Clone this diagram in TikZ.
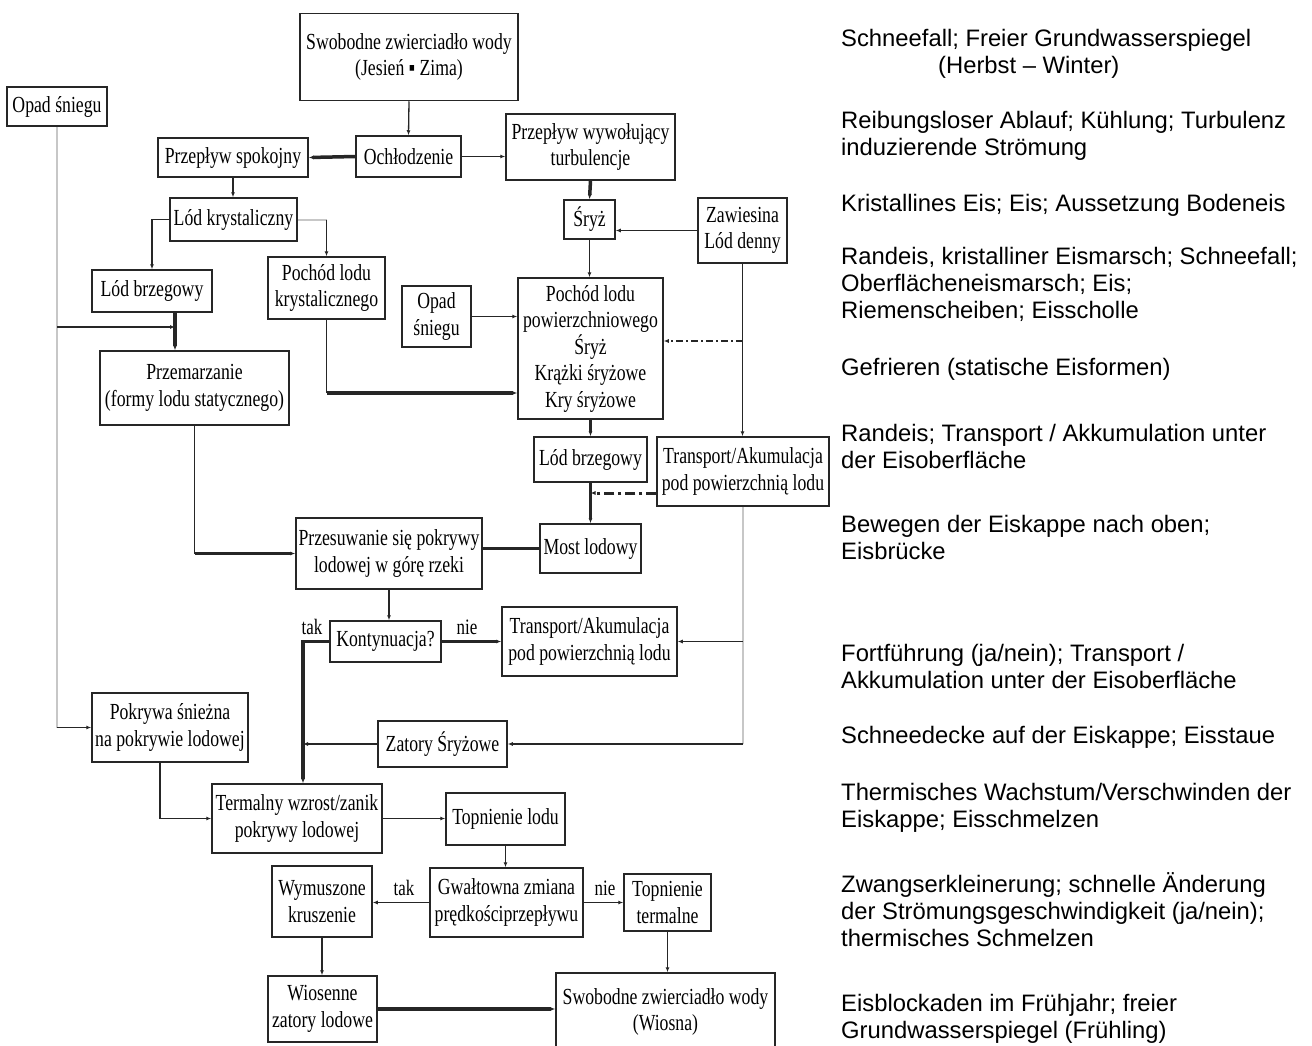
\documentclass[tikz,border=0pt]{standalone}
\usepackage{fontspec}
\setmainfont{Liberation Serif}[FakeStretch=0.77]
\newfontfamily\opisfont{Liberation Sans}
\usetikzlibrary{arrows.meta}

\begin{document}
\begin{tikzpicture}[x=1pt,y=-1pt,
    >={Latex[length=5pt,width=4pt]},
    blok/.style={draw=black!85,line width=1.5pt,inner sep=0pt,align=center,
        font=\fontsize{23}{26.5}\selectfont},
    linia/.style={line width=1.3pt,black!85},
    gruba/.style={line width=3.5pt,black!85},
    szara/.style={line width=2pt,black!22},
    etykieta/.style={inner sep=0pt,font=\fontsize{22}{24}\selectfont},
    opis/.style={anchor=base west,align=left,inner sep=0pt,
        font=\opisfont\fontsize{23.8}{27}\selectfont}]
\clip (0,0) rectangle (1312,1045);
\fill[white] (0,0) rectangle (1312,1045);

\node[blok,minimum width=218,minimum height=87] (swobJ) at (409,57) {Swobodne zwierciadło wody\\(Jesień ▪ Zima)};
\node[blok,minimum width=105,minimum height=41] (ochl) at (408.5,156.5) {Ochłodzenie};
\node[blok,minimum width=150,minimum height=39] (spok) at (233,157.5) {Przepływ spokojny};
\node[blok,minimum width=169,minimum height=66] (turb) at (590.5,147) {Przepływ wywołujący\\turbulencje};
\node[blok,minimum width=100,minimum height=39] (opadL) at (57,106.5) {Opad śniegu};
\node[blok,minimum width=127,minimum height=43] (kryst) at (233.5,219.5) {Lód krystaliczny};
\node[blok,minimum width=51,minimum height=39] (sryz) at (589.5,219.5) {Śryż};
\node[blok,minimum width=89,minimum height=65] (zaw) at (742.5,230.5) {Zawiesina\\Lód denny};
\node[blok,minimum width=120,minimum height=42] (brzegL) at (152,291) {Lód brzegowy};
\node[blok,minimum width=117,minimum height=62] (pkryst) at (326.5,288) {Pochód lodu\\krystalicznego};
\node[blok,minimum width=69,minimum height=61] (opadP) at (436.5,316.5) {Opad\\śniegu};
\node[blok,minimum width=145,minimum height=141] (ppow) at (590.5,348.5) {Pochód lodu\\powierzchniowego\\Śryż\\Krążki śryżowe\\Kry śryżowe};
\node[blok,minimum width=189,minimum height=74] (przem) at (194.5,388) {Przemarzanie\\(formy lodu statycznego)};
\node[blok,minimum width=113,minimum height=45] (brzegP) at (590.5,459.5) {Lód brzegowy};
\node[blok,minimum width=172,minimum height=69] (transG) at (743,471.5) {Transport/Akumulacja\\pod powierzchnią lodu};
\node[blok,minimum width=101,minimum height=49] (most) at (590.5,548.5) {Most lodowy};
\node[blok,minimum width=186,minimum height=71] (przes) at (389,553.5) {Przesuwanie się pokrywy\\lodowej w górę rzeki};
\node[blok,minimum width=111,minimum height=41] (kont) at (385.5,641.5) {Kontynuacja?};
\node[blok,minimum width=175,minimum height=69] (transD) at (589.5,641.5) {Transport/Akumulacja\\pod powierzchnią lodu};
\node[blok,minimum width=156,minimum height=69] (pokr) at (170,727.5) {Pokrywa śnieżna\\na pokrywie lodowej};
\node[blok,minimum width=129,minimum height=46] (zator) at (442.5,744) {Zatory Śryżowe};
\node[blok,minimum width=170,minimum height=69] (term) at (297,818.5) {Termalny wzrost/zanik\\pokrywy lodowej};
\node[blok,minimum width=119,minimum height=52] (topl) at (505.5,819) {Topnienie lodu};
\node[blok,minimum width=153,minimum height=69] (gwalt) at (506.5,902.5) {Gwałtowna zmiana\\prędkościprzepływu};
\node[blok,minimum width=100,minimum height=71] (wym) at (322,901.5) {Wymuszone\\kruszenie};
\node[blok,minimum width=87,minimum height=57] (topt) at (667.5,902.5) {Topnienie\\termalne};
\node[blok,minimum width=109,minimum height=66] (wios) at (322.5,1009) {Wiosenne\\zatory lodowe};
\node[blok,minimum width=219,minimum height=78] (swobW) at (665.5,1012) {Swobodne zwierciadło wody\\(Wiosna)};

\coordinate (tk) at ([xshift=6]term.north);
\coordinate (bk) at ([xshift=23]brzegL.south);

\draw[szara] (opadL.south) -- (opadL.south |- pokr.west);
\draw[szara] (kryst.east) -- (kryst.east -| pkryst.north);
\draw[szara] (transG.south) -- (transG.south |- zator.east);

\draw[linia,->] (swobJ.south) -- (ochl.north);
\draw[gruba,->] (ochl.west) -- (spok.east);
\draw[linia,->] (ochl.east) -- (ochl.east -| turb.west);
\draw[linia,->] (spok.south) -- (spok.south |- kryst.north);
\draw[linia,->] (kryst.west) -| (brzegL.north);
\draw[linia,->] (kryst.east -| pkryst.north) -- (pkryst.north);
\draw[gruba,->] (turb.south) -- (sryz.north);
\draw[linia,->] (zaw.west) -- (zaw.west -| sryz.east);
\draw[linia,->] (sryz.south) -- (sryz.south |- ppow.north);
\draw[linia,->] (opadP.east) -- (opadP.east -| ppow.west);
\draw[linia,->] (zaw.south) -- (zaw.south |- transG.north);
\draw[linia,->,dash pattern=on 7pt off 3pt on 2pt off 3pt] (zaw.south |- 0,341) -- (ppow.east |- 0,341);
\draw[linia] (pkryst.south) -- (pkryst.south |- 0,393);
\draw[gruba,->] (pkryst.south |- 0,393) -- (ppow.west |- 0,393);
\draw[gruba,->] (bk) -- (bk |- przem.north);
\draw[linia,->] (opadL.south |- 0,327) -- (bk |- 0,327);
\draw[linia,->] (opadL.south |- pokr.west) -- (pokr.west);
\draw[linia] (przem.south) -- (przem.south |- przes.west);
\draw[gruba,->] (przem.south |- przes.west) -- (przes.west);
\draw[gruba,->] (ppow.south) -- (brzegP.north);
\draw[gruba,->] (brzegP.south) -- (most.north);
\draw[line width=3pt,black!85,dash pattern=on 10pt off 4pt on 3pt off 4pt,->] (transG.west |- 0,493) -- (brzegP.south |- 0,493);
\draw[gruba] (most.west) -- (most.west -| przes.east);
\draw[linia,->] (przes.south) -- (przes.south |- kont.north);
\draw[gruba,->] (kont.west) -| (tk);
\draw[gruba,->] (kont.east) -- (transD.west);
\draw[linia,->] (transG.south |- transD.east) -- (transD.east);
\draw[linia,->] (transG.south |- zator.east) -- (zator.east);
\draw[linia,->] (zator.west) -- (zator.west -| tk);
\draw[linia,->] ([xshift=-10]pokr.south) |- (term.west);
\draw[linia,->] (term.east) -- (term.east -| topl.west);
\draw[linia,->] (topl.south) -- (topl.south |- gwalt.north);
\draw[linia,->] (gwalt.west) -- (gwalt.west -| wym.east);
\draw[linia,->] (gwalt.east) -- (gwalt.east -| topt.west);
\draw[linia,->] (wym.south) -- (wym.south |- wios.north);
\draw[linia,->] (topt.south) -- (topt.south |- swobW.north);
\draw[gruba,->] (wios.east) -- (wios.east -| swobW.west);

\node[etykieta] (tak1) at (312,627) {tak};
\node[etykieta] (nie1) at (467,627) {nie};
\node[etykieta] (tak2) at (404,888) {tak};
\node[etykieta] (nie2) at (605,888) {nie};

\node[opis] (o1) at (841,73) {Schneefall; Freier Grundwasserspiegel\\\hspace*{97pt}(Herbst – Winter)};
\node[opis] (o2) at (841,155) {Reibungsloser Ablauf; Kühlung; Turbulenz\\induzierende Strömung};
\node[opis] (o3) at (841,211) {Kristallines Eis; Eis; Aussetzung Bodeneis};
\node[opis] (o4) at (841,318) {Randeis, kristalliner Eismarsch; Schneefall;\\Oberflächeneismarsch; Eis;\\Riemenscheiben; Eisscholle};
\node[opis] (o5) at (841,375) {Gefrieren (statische Eisformen)};
\node[opis] (o6) at (841,468) {Randeis; Transport / Akkumulation unter\\der Eisoberfläche};
\node[opis] (o7) at (841,559) {Bewegen der Eiskappe nach oben;\\Eisbrücke};
\node[opis] (o8) at (841,688) {Fortführung (ja/nein); Transport /\\Akkumulation unter der Eisoberfläche};
\node[opis] (o9) at (841,743) {Schneedecke auf der Eiskappe; Eisstaue};
\node[opis] (o10) at (841,827) {Thermisches Wachstum/Verschwinden der\\Eiskappe; Eisschmelzen};
\node[opis] (o11) at (841,946) {Zwangserkleinerung; schnelle Änderung\\der Strömungsgeschwindigkeit (ja/nein);\\thermisches Schmelzen};
\node[opis] (o12) at (841,1038) {Eisblockaden im Frühjahr; freier\\Grundwasserspiegel (Frühling)};
\end{tikzpicture}
\end{document}
